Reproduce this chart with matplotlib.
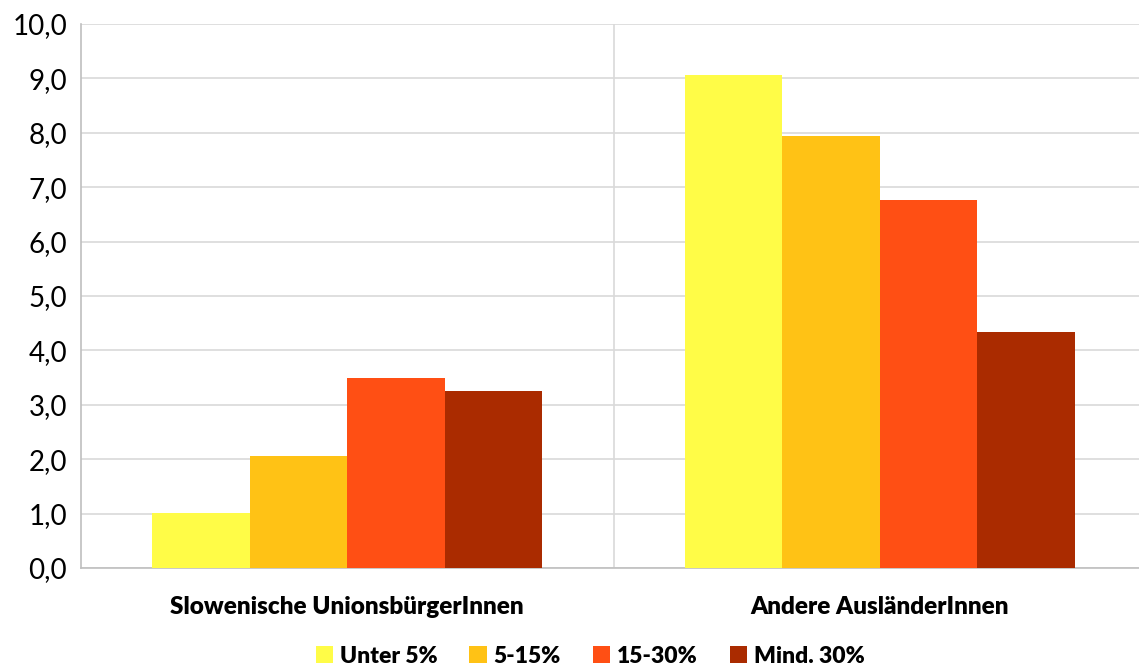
import matplotlib.pyplot as plt
import numpy as np

categories = ["Slowenische UnionsbürgerInnen", "Andere AusländerInnen"]
series = ["Unter 5%", "5-15%", "15-30%", "Mind. 30%"]
values = [
    [1.02, 9.06],
    [2.05, 7.94],
    [3.50, 6.76],
    [3.25, 4.33],
]
colors = ["#FFFC47", "#FFC215", "#FF4F14", "#AA2B00"]

plt.rcParams['font.family'] = ['Lato', 'DejaVu Sans']

fig = plt.figure(figsize=(11.39, 6.66), dpi=100)
ax = fig.add_axes([81/1139, 1-568/666, 1065/1139, 544/666])

x = np.arange(len(categories))
w = 0.183
for k, (name, vals) in enumerate(zip(series, values)):
    ax.bar(x + (k - 1.5) * w, vals, width=w, color=colors[k], label=name, zorder=3)

ax.set_xlim(-0.5, 1.5)
ax.set_ylim(0, 10)
ax.set_yticks(np.arange(0, 11, 1))
ax.set_yticklabels([f"{v:.1f}".replace(".", ",") for v in np.arange(0, 11, 1)], fontsize=20)
ax.set_xticks(x)
ax.set_xticklabels(categories, fontsize=17.5, fontweight='heavy')
ax.tick_params(axis='y', length=0, pad=10)
ax.tick_params(axis='x', length=0, pad=20)
ax.grid(axis='y', color='#D9D9D9', linewidth=1.2, zorder=0)
ax.axvline(0.5, color='#D9D9D9', linewidth=1.2, zorder=0)

for s in ['top', 'right']:
    ax.spines[s].set_visible(False)
for s in ['left', 'bottom']:
    ax.spines[s].set_color('#BFBFBF')
    ax.spines[s].set_linewidth(1.2)

fig.legend(loc='lower center', bbox_to_anchor=(0.518, -0.032), ncol=4, frameon=False,
           prop={'size': 16.5, 'weight': 'heavy'}, handlelength=0.75, handleheight=0.75,
           handletextpad=0.3, columnspacing=1.4)

fig.savefig("out.png", dpi=100)
